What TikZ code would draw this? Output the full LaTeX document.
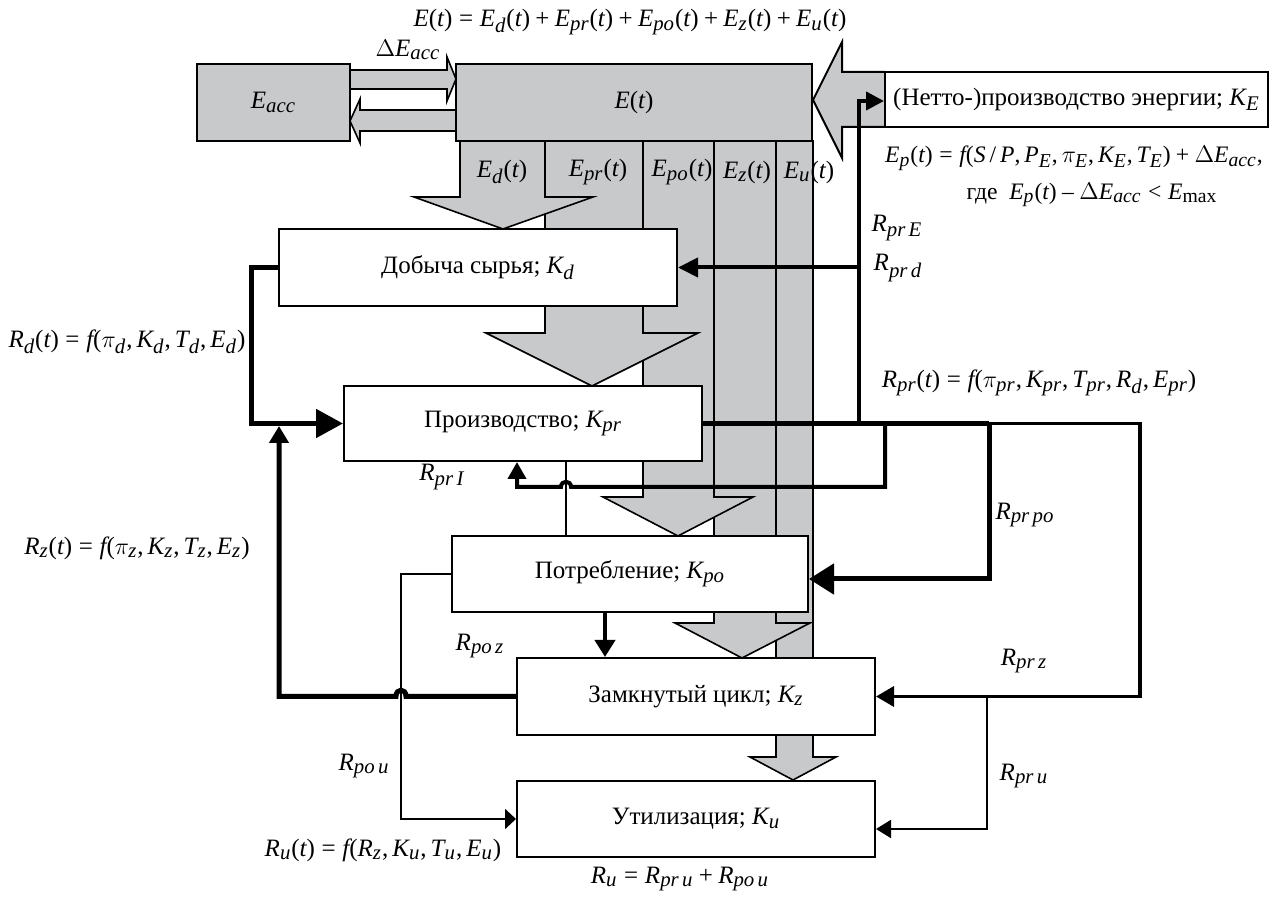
\documentclass[tikz,border=0pt]{standalone}
\usepackage[no-math]{fontspec}
\setmainfont{Liberation Serif}
\usepackage[italic]{mathastext}
\usetikzlibrary{arrows.meta}
\definecolor{egray}{RGB}{200,201,203}
\begin{document}
\begin{tikzpicture}[x=0.5pt,y=-0.5pt,
  every node/.style={font=\fontsize{12.5}{15}\selectfont, inner sep=0pt},
  box/.style={draw, line width=1pt, fill=white},
  gbox/.style={draw, line width=1pt, fill=egray},
  col/.style={draw, line width=0.8pt, fill=egray},
  arr/.style 2 args={-{Triangle[length=#1,width=#2]}},
  wA/.style={line width=2.5pt},
  wB/.style={line width=2pt},
  wC/.style={line width=1.7pt},
  wD/.style={line width=0.9pt},
  wE/.style={line width=0.75pt},
  small/.style={font=\fontsize{11.8}{14}\selectfont}]
\useasboundingbox (0,0) rectangle (1271,897);

% energy columns (right to left so heads overlap)
\path[col] (776,141) -- (776,757) -- (750,757) -- (793,780) -- (836,757) -- (813,757) -- (813,141) -- cycle;
\path[col] (714,141) -- (714,623) -- (675,623) -- (742,658) -- (810,623) -- (776,623) -- (776,141) -- cycle;
\path[col] (643,141) -- (643,497) -- (603,497) -- (678,536) -- (753,497) -- (714,497) -- (714,141) -- cycle;
\path[col] (545,141) -- (545,333) -- (486,333) -- (592,386) -- (698,333) -- (643,333) -- (643,141) -- cycle;
\path[col] (460,141) -- (460,197) -- (414,197) -- (503,229) -- (593,197) -- (545,197) -- (545,141) -- cycle;

% accumulator arrows
\path[col] (350,70) -- (447,70) -- (447,57) -- (456,79) -- (447,101) -- (447,89) -- (350,89) -- cycle;
\path[col] (456,110) -- (360,110) -- (360,99) -- (350,121) -- (360,143) -- (360,131) -- (456,131) -- cycle;

% big energy production arrow
\path[gbox] (885,72) -- (842,72) -- (842,42) -- (813,100) -- (842,158) -- (842,127) -- (885,127);

% boxes
\node[gbox, minimum width=76.5pt, minimum height=38.5pt] (eacc) at (273.5,102.5) {$E_{acc}$};
\node[gbox, minimum width=178pt, minimum height=38.5pt] (et) at (634,102.5) {$E(t)$};
\node[box, minimum width=191.5pt, minimum height=27.5pt] (netto) at (1076.5,99.5) {(Нетто-)производство энергии; $K_E$};
\node[box, minimum width=199pt, minimum height=38.5pt] (dob) at (478,267.5) {Добыча сырья; $K_d$};
\node[box, minimum width=179pt, minimum height=37.5pt] (proiz) at (523,423.5) {Производство; $K_{pr}$};
\node[box, minimum width=178pt, minimum height=38pt] (potr) at (630,574) {Потребление; $K_{po}$};
\node[box, minimum width=179pt, minimum height=38.5pt] (zamk) at (696,696.5) {Замкнутый цикл; $K_z$};
\node[box, minimum width=179pt, minimum height=38pt] (util) at (696,819) {Утилизация; $K_u$};

% column labels
\node (ld) at (502,172) {$E_d(t)$};
\node (lpr) at (598,172) {$E_{pr}(t)$};
\node (lpo) at (682,172) {$E_{po}(t)$};
\node (lz) at (747,172) {$E_z(t)$};
\node (lu) at (809,172) {$E_u(t)$};

% connectors
\draw[wE] (proiz.south -| 566,0) -- (potr.north -| 566,0);
\draw[wD, arr={5.5pt}{10pt}] (potr.west) -| (401,700) |- (util.west);
\draw[wA, arr={13.5pt}{14pt}] (dob.west) -- ++(-27,0) |- (proiz.west);
\draw[wA, arr={8.5pt}{9.5pt}] (zamk.west) -- (406,696.5) .. controls (406,688) and (396,688) .. (396,696.5) -- (279,696.5) -- (279,426);
\draw[wB, arr={8.5pt}{10pt}] (potr.south -| 605,0) -- (zamk.north -| 605,0);
\draw[wA] (proiz.east) -- (989,423.5);
\draw[wC, arr={9pt}{10pt}] (989,423.5) -- (1140,423.5) -- (1140,696.5) -- (zamk.east);
\draw[wD, arr={7.5pt}{9pt}] (987,696.5) -- (987,829) -- (util.east |- 987,829);
\draw[wA, arr={12.5pt}{15pt}] (989,423.5) -- (989,579) -- (potr.east |- 989,579);
\draw[wB, arr={9pt}{9pt}] (859,423.5) -- (859,101) -- (netto.west |- 859,101);
\draw[wB, arr={10pt}{9.5pt}] (859,267.5) -- (dob.east);
\draw[wB, arr={8.5pt}{9pt}] (885,423.5) -- (885,487) -- (571,487) .. controls (571,480) and (561,480) .. (561,487) -- (517,487) -- (proiz.south -| 517,0);

% formulas
\node (ftop) at (630,22) {$E(t)=E_d(t)+E_{pr}(t)+E_{po}(t)+E_z(t)+E_u(t)$};
\node (fdacc) at (408,50) {$\Delta E_{acc}$};
\node[small] (fep) at (1074,158) {$E_p(t)=f(S\,/\,P,P_E,\pi_E,K_E,T_E)+\Delta E_{acc},$};
\node[small] (fwhere) at (1092,195) {где\ \ $E_p(t)-\Delta E_{acc}<E_{\max}$};
\node (frd) at (127,342) {$R_d(t)=f(\pi_d,K_d,T_d,E_d)$};
\node (frz) at (137,548) {$R_z(t)=f(\pi_z,K_z,T_z,E_z)$};
\node (fru) at (383,850) {$R_u(t)=f(R_z,K_u,T_u,E_u)$};
\node (frpr) at (1039,383) {$R_{pr}(t)=f(\pi_{pr},K_{pr},T_{pr},R_d,E_{pr})$};
\node (frusum) at (680,879) {$R_u=R_{pr\,u}+R_{po\,u}$};

% labels
\node (lprI) at (442,477) {$R_{pr\,I}$};
\node (lprE) at (897,228) {$R_{pr\,E}$};
\node (lprd) at (898,268) {$R_{pr\,d}$};
\node (lprpo) at (1025,515) {$R_{pr\,po}$};
\node (lprz) at (1024,661) {$R_{pr\,z}$};
\node (lpru) at (1024,776) {$R_{pr\,u}$};
\node (lpoz) at (480,646) {$R_{po\,z}$};
\node (lpou) at (364,766) {$R_{po\,u}$};
\end{tikzpicture}
\end{document}
